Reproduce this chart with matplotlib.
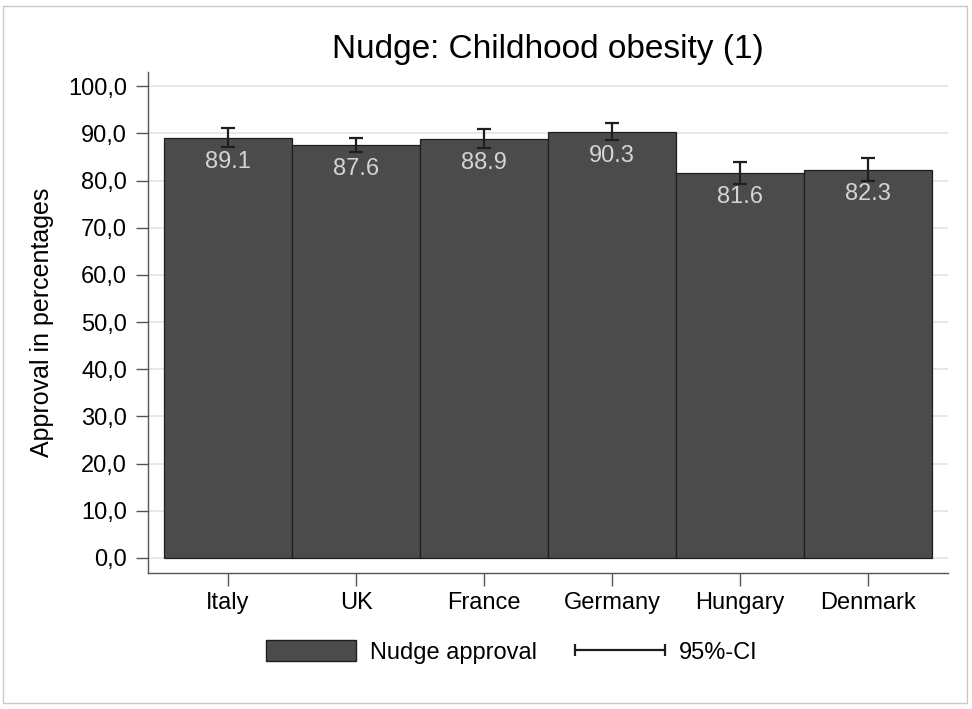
import numpy as np
import matplotlib.pyplot as plt
from matplotlib.patches import Rectangle
from matplotlib.lines import Line2D
from matplotlib.legend_handler import HandlerLine2D

plt.rcParams['font.family'] = ['Liberation Sans', 'DejaVu Sans']

countries = ["Italy", "UK", "France", "Germany", "Hungary", "Denmark"]
approval = [89.1, 87.6, 88.9, 90.3, 81.6, 82.3]
ci_half = [2.0, 1.5, 2.0, 1.8, 2.3, 2.4]
yticks = np.arange(0, 101, 10)

fig = plt.figure(figsize=(9.72, 7.09), dpi=100)
ax = fig.add_axes([148/972, 1 - 573/709, 800/972, 501/709])

x = np.arange(len(countries))
ax.bar(x, approval, width=1.0, color="#4b4b4b", edgecolor="#1e1e1e",
       linewidth=0.9, zorder=2)
ax.errorbar(x, approval, yerr=ci_half, fmt="none", ecolor="#1e1e1e",
            elinewidth=1.6, capsize=5, capthick=1.6, zorder=3)
for xi, v in zip(x, approval):
    ax.text(xi, v - 2.8, f"{v:.1f}", ha="center", va="top",
            color="#d4d4d4", fontsize=17, zorder=4)

ax.set_xlim(-0.625, 5.625)
ax.set_ylim(-3.2, 103)
ax.set_yticks(yticks)
ax.set_yticklabels([f"{t:.1f}".replace(".", ",") for t in yticks], fontsize=17)
ax.set_xticks(x)
ax.set_xticklabels(countries, fontsize=17)
ax.tick_params(axis="both", length=9, width=1, color="#555555", pad=6)
ax.tick_params(axis="x", pad=5)
ax.yaxis.grid(True, color="#e3e3e3", linewidth=1.2, zorder=0)
ax.set_axisbelow(True)
for s in ["top", "right"]:
    ax.spines[s].set_visible(False)
for s in ["left", "bottom"]:
    ax.spines[s].set_color("#555555")
    ax.spines[s].set_linewidth(1)

ax.set_ylabel("Approval in percentages", fontsize=18, labelpad=10)
ax.set_title("Nudge: Childhood obesity (1)", fontsize=24, pad=10)

handles = [Rectangle((0, 0), 1, 1, facecolor="#4b4b4b", edgecolor="#1e1e1e"),
           Line2D([0], [0], color="#1e1e1e", lw=1.6, marker="|",
                  markersize=9, markeredgewidth=1.6)]
leg = fig.legend(handles, ["Nudge approval", "95%-CI"], loc="center",
                 bbox_to_anchor=(512/972, 1 - 652/709), ncol=2, frameon=False,
                 fontsize=17, numpoints=2, handlelength=3.8, handleheight=1.0,
                 handletextpad=0.6, columnspacing=1.6,
                 handler_map={Line2D: HandlerLine2D(marker_pad=0)})

fig.patches.append(Rectangle((3/972, 6/709), 964/972, 697/709,
                             transform=fig.transFigure, fill=False,
                             edgecolor="#c8c8c8", linewidth=1))

fig.savefig("out.png", dpi=100)
